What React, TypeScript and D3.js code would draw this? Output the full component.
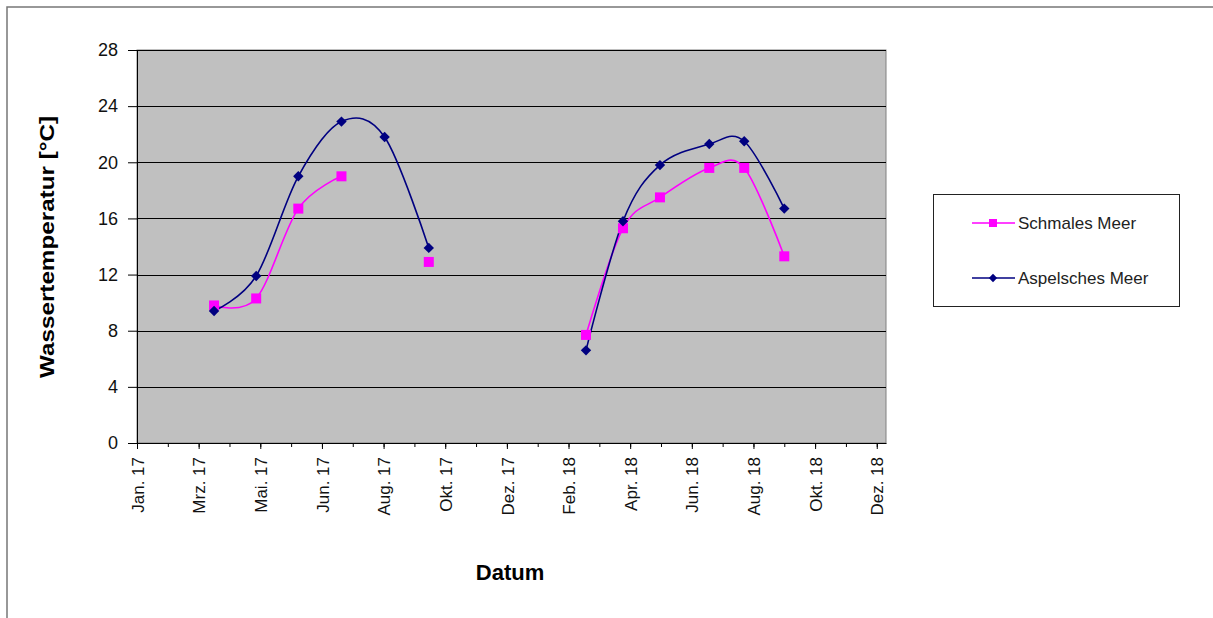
import { useEffect, useRef } from 'react';
import * as d3 from 'd3';

const W = 1213;
const H = 618;

// sampling dates (two campaigns, 2017 and 2018)
const dates2017 = ['2017-03-17', '2017-04-27', '2017-06-07', '2017-07-19', '2017-08-30', '2017-10-12'];
const dates2018 = ['2018-03-14', '2018-04-19', '2018-05-25', '2018-07-12', '2018-08-15', '2018-09-23'];

const schmales2017 = [9.8, 10.3, 16.7, 19.0, null, 12.9];
const schmales2018 = [7.7, 15.3, 17.5, 19.6, 19.6, 13.3];
const aspel2017 = [9.4, 11.9, 19.0, 22.9, 21.8, 13.9];
const aspel2018 = [6.6, 15.8, 19.8, 21.3, 21.5, 16.7];

const yTicks = [0, 4, 8, 12, 16, 20, 24, 28];
const xTickLabels = [
  'Jan. 17', 'Mrz. 17', 'Mai. 17', 'Jun. 17', 'Aug. 17', 'Okt. 17', 'Dez. 17',
  'Feb. 18', 'Apr. 18', 'Jun. 18', 'Aug. 18', 'Okt. 18', 'Dez. 18',
];
const axisStart = '2017-01-01';
const axisEnd = '2018-12-31';
const majorStepDays = 60;
const minorStepDays = 30;

const FONT = 'Liberation Sans, Arial, sans-serif';
const PINK = '#ff00ff';
const NAVY = '#000080';

type Pt = { date: Date; value: number | null };

export default function App() {
  const svgRef = useRef<SVGSVGElement>(null);

  useEffect(() => {
    if (!svgRef.current) return;
    const svg = d3.select(svgRef.current);
    svg.selectAll('*').remove();

    const parse = d3.timeParse('%Y-%m-%d');
    const start = parse(axisStart)!;
    const end = parse(axisEnd)!;

    const plot = { left: 137, right: 886, top: 50, bottom: 443 };

    const x = d3.scaleTime().domain([start, end]).range([plot.left, plot.right]);
    const y = d3.scaleLinear().domain([0, 28]).range([plot.bottom, plot.top]);

    const majorDates = xTickLabels.map((_, i) => d3.timeDay.offset(start, i * majorStepDays));
    const minorDates = d3
      .range(0, (xTickLabels.length - 1) * majorStepDays + 1, minorStepDays)
      .map((d) => d3.timeDay.offset(start, d));

    // outer chart frame
    svg
      .append('rect')
      .attr('x', 7)
      .attr('y', 7)
      .attr('width', W + 20)
      .attr('height', H + 20)
      .attr('fill', '#fff')
      .attr('stroke', '#777')
      .attr('stroke-width', 1.5);

    // ── Plot area ──
    svg
      .append('rect')
      .attr('x', plot.left)
      .attr('y', plot.top)
      .attr('width', plot.right - plot.left)
      .attr('height', plot.bottom - plot.top)
      .attr('fill', '#c0c0c0')
      .attr('stroke', '#808080');

    svg
      .append('g')
      .selectAll('line')
      .data(yTicks.filter((v) => v > 0))
      .enter()
      .append('line')
      .attr('x1', plot.left)
      .attr('x2', plot.right)
      .attr('y1', (d) => Math.round(y(d)) + 0.5)
      .attr('y2', (d) => Math.round(y(d)) + 0.5)
      .attr('stroke', '#000')
      .attr('stroke-width', 1);

    // ── Axes ──
    const yAxis = svg
      .append('g')
      .attr('transform', `translate(${plot.left},0)`)
      .call(
        d3.axisLeft(y).tickValues(yTicks).tickSize(9).tickSizeOuter(0).tickPadding(10).tickFormat((d) => `${d}`),
      );
    yAxis.select('.domain').attr('stroke', '#000');
    yAxis.selectAll('.tick line').attr('stroke', '#000');
    yAxis
      .selectAll('.tick text')
      .attr('font-family', FONT)
      .attr('font-size', 18)
      .attr('fill', '#111');

    const xMinor = svg
      .append('g')
      .attr('transform', `translate(0,${plot.bottom})`)
      .call(d3.axisBottom(x).tickValues(minorDates).tickSize(4).tickSizeOuter(0).tickFormat(() => ''));
    xMinor.select('.domain').remove();
    xMinor.selectAll('.tick line').attr('stroke', '#000');

    const xAxis = svg
      .append('g')
      .attr('transform', `translate(0,${plot.bottom})`)
      .call(
        d3
          .axisBottom(x)
          .tickValues(majorDates)
          .tickSize(6)
          .tickSizeOuter(0)
          .tickFormat((_, i) => xTickLabels[i]),
      );
    xAxis.select('.domain').attr('stroke', '#000');
    xAxis.selectAll('.tick line').attr('stroke', '#000');
    xAxis
      .selectAll('.tick text')
      .attr('font-family', FONT)
      .attr('font-size', 17)
      .attr('fill', '#111')
      .attr('text-anchor', 'end')
      .attr('transform', 'rotate(-90)')
      .attr('x', -14)
      .attr('y', 0)
      .attr('dy', '0.36em');

    // axis titles
    svg
      .append('text')
      .attr('transform', `translate(54,247) rotate(-90)`)
      .attr('text-anchor', 'middle')
      .attr('font-family', FONT)
      .attr('font-weight', 'bold')
      .attr('font-size', 20)
      .attr('textLength', 262)
      .attr('lengthAdjust', 'spacingAndGlyphs')
      .text('Wassertemperatur [°C]');

    svg
      .append('text')
      .attr('x', 510)
      .attr('y', 580)
      .attr('text-anchor', 'middle')
      .attr('font-family', FONT)
      .attr('font-weight', 'bold')
      .attr('font-size', 22)
      .text('Datum');

    // ── Series ──
    const toPts = (ds: string[], vs: (number | null)[]): Pt[] => ds.map((d, i) => ({ date: parse(d)!, value: vs[i] }));

    const series = [
      { name: 'Schmales Meer', color: PINK, marker: 'square', parts: [toPts(dates2017, schmales2017), toPts(dates2018, schmales2018)] },
      { name: 'Aspelsches Meer', color: NAVY, marker: 'diamond', parts: [toPts(dates2017, aspel2017), toPts(dates2018, aspel2018)] },
    ];

    const line = d3
      .line<Pt>()
      .defined((d) => d.value != null)
      .x((d) => x(d.date))
      .y((d) => y(d.value as number))
      .curve(d3.curveCardinal.tension(0));

    const drawMarker = (g: d3.Selection<SVGGElement, unknown, null, undefined>, kind: string, cx: number, cy: number, color: string, size = 1) => {
      if (kind === 'square') {
        const h = 5 * size;
        g.append('rect')
          .attr('x', cx - h)
          .attr('y', cy - h)
          .attr('width', 2 * h)
          .attr('height', 2 * h)
          .attr('fill', color);
      } else {
        const r = 5.2 * size;
        g.append('path')
          .attr('d', `M${cx},${cy - r}L${cx + r},${cy}L${cx},${cy + r}L${cx - r},${cy}Z`)
          .attr('fill', color);
      }
    };

    series.forEach((s) => {
      const g = svg.append('g');
      s.parts.forEach((pts) => {
        g.append('path')
          .attr('d', line(pts) || '')
          .attr('fill', 'none')
          .attr('stroke', s.color)
          .attr('stroke-width', 1.6);
      });
    });
    series.forEach((s) => {
      const g = svg.append('g');
      s.parts.forEach((pts) => {
        pts
          .filter((d) => d.value != null)
          .forEach((d) => drawMarker(g, s.marker, x(d.date), y(d.value as number), s.color));
      });
    });

    // ── Legend ──
    const lg = svg.append('g');
    lg.append('rect')
      .attr('x', 933.5)
      .attr('y', 194.5)
      .attr('width', 246)
      .attr('height', 112)
      .attr('fill', '#fff')
      .attr('stroke', '#222');

    series.forEach((s, i) => {
      const ly = 223 + i * 55;
      lg.append('line')
        .attr('x1', 972)
        .attr('x2', 1015)
        .attr('y1', ly)
        .attr('y2', ly)
        .attr('stroke', s.color)
        .attr('stroke-width', 1.6);
      drawMarker(lg as any, s.marker, 993, ly, s.color, 0.8);
      lg.append('text')
        .attr('x', 1018)
        .attr('y', ly)
        .attr('dy', '0.35em')
        .attr('font-family', FONT)
        .attr('font-size', 17)
        .attr('fill', '#222')
        .text(s.name);
    });
  }, []);

  return (
    <div style={{ position: 'absolute', left: 0, top: 0 }}>
      <svg ref={svgRef} width={W} height={H} style={{ display: 'block', background: '#fff' }} />
    </div>
  );
}
